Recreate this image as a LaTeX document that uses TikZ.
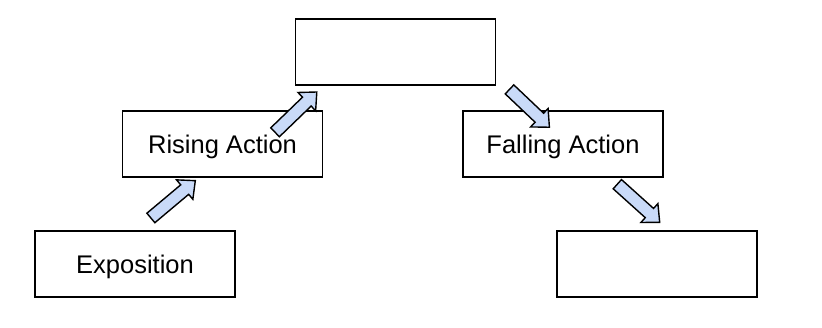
\documentclass[tikz,border=0pt]{standalone}
\usepackage{fontspec}
\setmainfont{Liberation Sans}
\usetikzlibrary{shapes.arrows}
\definecolor{arrowblue}{HTML}{C9DAF8}
\begin{document}
\begin{tikzpicture}[
    x=1pt, y=1pt,
    event/.style={
        rectangle, draw=black, fill=white, line width=1.4pt,
        minimum width=200pt, minimum height=66pt,
        text height=18.3pt, text depth=0pt,
        align=center, font=\fontsize{25.5}{30}\selectfont
    },
    push/.style={
        single arrow, draw=black, fill=arrowblue, line width=1.4pt,
        inner xsep=0pt, inner ysep=5.5pt,
        single arrow head extend=6.5pt, single arrow tip angle=85,
        minimum height=58pt
    }
]
\useasboundingbox (0,0) rectangle (822,328);

% Plot stages
\node[event] (expo) at (135, 64) {Exposition};
\node[event] (rising) at (222.5, 184) {Rising Action};
\node[event] (climax) at (395.5, 276) {};
\node[event] (falling) at (563, 184) {Falling Action};
\node[event] (resolution) at (657, 64) {};

% Block arrows
\node[push, rotate=40] (up1) at (170.5, 126.5) {};
\node[push, rotate=44] (up2) at (293.5, 213.5) {};
\node[push, rotate=-43.5, minimum height=55pt] (down1) at (527, 222) {};
\node[push, rotate=-42, minimum height=57pt] (down2) at (636, 127) {};

\end{tikzpicture}
\end{document}
